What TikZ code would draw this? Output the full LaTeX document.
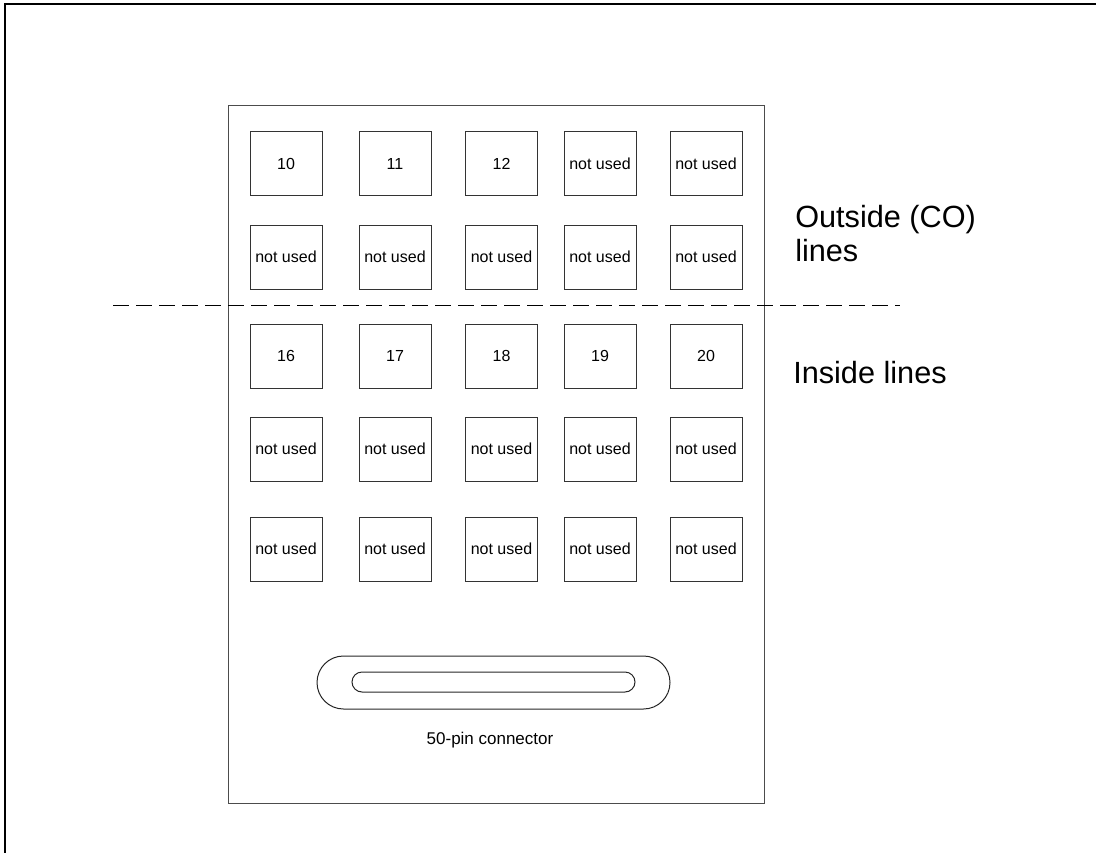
\documentclass[tikz,border=0pt]{standalone}
\usepackage{fontspec}
\setmainfont{Liberation Sans}
\begin{document}
\begin{tikzpicture}[x=0.75pt,y=-0.75pt,
  pinbox/.style={draw=black!80,line width=0.75pt,minimum width=54pt,minimum height=48pt,inner sep=0pt,font=\fontsize{12}{14}\selectfont},
  biglabel/.style={anchor=north west,inner sep=0pt,align=left,font=\fontsize{23}{25.5}\selectfont},
  frame/.style={line width=1.5pt,line cap=rect},
  panel/.style={draw=black!70,line width=0.75pt}]
\useasboundingbox (0,0) rectangle (1096,853);
% outer frame (top and left)
\draw[frame] (1096,4) -- (5,4) -- (5,853);
% panel
\draw[panel] (228,105.5) rectangle (764,803);
% boxes
\foreach \r/\y in {1/163.5,2/257,3/356,4/449,5/549}{
  \foreach \c/\x in {1/286,2/395,3/501.5,4/600,5/706}{
    \coordinate (p\r\c) at (\x,\y);
  }
}
\node[pinbox] (b10) at (p11) {10};
\node[pinbox] (b11) at (p12) {11};
\node[pinbox] (b12) at (p13) {12};
\node[pinbox] (b14) at (p14) {not used};
\node[pinbox] (b15) at (p15) {not used};
\node[pinbox] (b21) at (p21) {not used};
\node[pinbox] (b22) at (p22) {not used};
\node[pinbox] (b23) at (p23) {not used};
\node[pinbox] (b24) at (p24) {not used};
\node[pinbox] (b25) at (p25) {not used};
\node[pinbox] (b16) at (p31) {16};
\node[pinbox] (b17) at (p32) {17};
\node[pinbox] (b18) at (p33) {18};
\node[pinbox] (b19) at (p34) {19};
\node[pinbox] (b20) at (p35) {20};
\node[pinbox] (b41) at (p41) {not used};
\node[pinbox] (b42) at (p42) {not used};
\node[pinbox] (b43) at (p43) {not used};
\node[pinbox] (b44) at (p44) {not used};
\node[pinbox] (b45) at (p45) {not used};
\node[pinbox] (b51) at (p51) {not used};
\node[pinbox] (b52) at (p52) {not used};
\node[pinbox] (b53) at (p53) {not used};
\node[pinbox] (b54) at (p54) {not used};
\node[pinbox] (b55) at (p55) {not used};
% dashed divider
\coordinate (dl) at (113,305.5);
\coordinate (dr) at (900,305.5);
\draw[black,line width=0.75pt,dash pattern=on 12pt off 5.25pt] (dl) -- (dr);
% labels
\node[biglabel] (outside) at (795,205) {Outside (CO)\\lines};
\node[biglabel] (inside) at (793,361) {Inside lines};
% connector
\draw[black!85,line width=0.75pt,rounded corners=19.875pt] (317,656) rectangle (670,709);
\draw[black!85,line width=0.75pt,rounded corners=7.5pt] (352,672) rectangle (635,692);
\node[inner sep=0pt,font=\fontsize{12.75}{15}\selectfont] (conn) at (490,740) {50-pin connector};
\end{tikzpicture}
\end{document}
